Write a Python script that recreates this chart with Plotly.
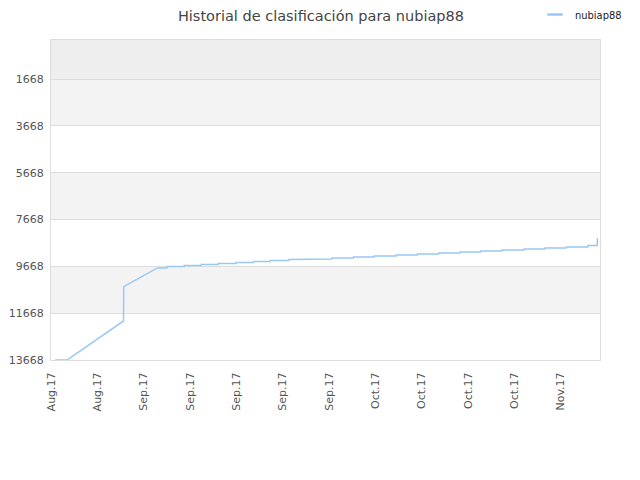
import plotly.graph_objects as go

# rank history (lower = better)
dates = [
    "2017-08-18 15:30", "2017-08-20 10:00", "2017-08-28 23:00", "2017-08-28 23:30",
    "2017-09-03 02:00", "2017-09-04 12:00", "2017-09-04 12:30", "2017-09-07 03:00",
    "2017-09-07 03:30", "2017-09-09 16:30", "2017-09-09 17:00", "2017-09-12 06:00",
    "2017-09-12 06:30", "2017-09-14 23:30", "2017-09-15 00:00", "2017-09-17 13:00",
    "2017-09-17 13:30", "2017-09-20 02:30", "2017-09-20 03:00", "2017-09-22 22:00",
    "2017-09-22 22:30", "2017-09-26 03:30", "2017-09-26 04:00", "2017-09-29 10:00",
    "2017-09-29 10:30", "2017-10-02 16:30", "2017-10-02 17:00", "2017-10-05 19:30",
    "2017-10-05 20:00", "2017-10-09 03:00", "2017-10-09 03:30", "2017-10-12 08:30",
    "2017-10-12 09:00", "2017-10-15 12:30", "2017-10-15 13:00", "2017-10-18 19:00",
    "2017-10-18 19:30", "2017-10-21 22:00", "2017-10-21 22:30", "2017-10-25 03:00",
    "2017-10-25 03:30", "2017-10-28 11:00", "2017-10-28 11:30", "2017-10-31 15:00",
    "2017-10-31 15:30", "2017-11-03 19:30", "2017-11-03 20:00", "2017-11-07 02:00",
    "2017-11-07 02:30", "2017-11-08 12:30", "2017-11-08 13:00",
]
ranks = [
    13668, 13668, 12002, 10535,
    9735, 9735, 9679, 9679,
    9637, 9637, 9594, 9594,
    9551, 9551, 9508, 9508,
    9465, 9465, 9423, 9423,
    9380, 9380, 9350, 9350,
    9307, 9307, 9265, 9265,
    9222, 9222, 9179, 9179,
    9136, 9136, 9094, 9094,
    9051, 9051, 9008, 9008,
    8965, 8965, 8923, 8923,
    8880, 8880, 8837, 8837,
    8782, 8782, 8465,
]

y_ticks = [1668, 3668, 5668, 7668, 9668, 11668, 13668]
y_labels = [str(v) for v in y_ticks]
x_start = "2017-08-18"
x_end = "2017-11-08 22:30"

FONT = "DejaVu Sans, Verdana, sans-serif"
LINE_COLOR = "#99c8f5"
CLEAR = "rgba(0,0,0,0)"

fig = go.Figure()
fig.add_trace(go.Scatter(
    x=dates, y=ranks, mode="lines", name="nubiap88", showlegend=False,
    line=dict(color=LINE_COLOR, width=1.5),
))
# legend entry with a short dash like the original
fig.add_trace(go.Scatter(
    x=[None], y=[None], mode="markers", name="nubiap88",
    marker=dict(symbol="line-ew-open", size=11, color=LINE_COLOR,
                line=dict(color=LINE_COLOR, width=2.5)),
))

# alternating background bands between y ticks
shapes = [dict(type="rect", xref="paper", yref="y", x0=0, x1=1, y0=1, y1=y_ticks[0],
               fillcolor="#eeeeee", line_width=0, layer="below")]
for i in range(0, len(y_ticks) - 1, 2):
    shapes.append(dict(type="rect", xref="paper", yref="y", x0=0, x1=1,
                       y0=y_ticks[i], y1=y_ticks[i + 1],
                       fillcolor="#f3f3f3", line_width=0, layer="below"))

# page body adds an 8px offset, margins compensate for it
fig.update_layout(
    width=640, height=480,
    margin=dict(l=43, r=48, t=32, b=128, autoexpand=False),
    paper_bgcolor="white", plot_bgcolor="white",
    font=dict(family=FONT, size=11, color="#555"),
    title=dict(text="Historial de clasificación para nubiap88", x=0.489, xref="container",
               y=0.983, yref="container", yanchor="middle",
               font=dict(size=14.5, color="#444")),
    showlegend=True,
    legend=dict(x=0.8816, xanchor="left", y=1.125, yanchor="top",
                font=dict(family="DejaVu Sans Condensed, Liberation Sans Narrow, sans-serif",
                          size=11, color="#222"),
                bgcolor=CLEAR),
    shapes=shapes,
)
fig.update_xaxes(
    type="date", range=[x_start, x_end], tick0=x_start, dtick=7 * 86400000,
    tickformat="%b.%y", tickangle=-90, showgrid=False, zeroline=False,
    showline=True, linecolor="#dddddd", mirror=True,
    ticks="outside", ticklen=7, tickcolor=CLEAR, automargin=False,
)
fig.update_yaxes(
    range=[13668, 1], tickvals=y_ticks, ticktext=y_labels, showgrid=True,
    gridcolor="#dddddd", zeroline=False, showline=True, linecolor="#dddddd",
    mirror=True, ticks="outside", ticklen=4, tickcolor=CLEAR, automargin=False,
)

fig.write_html("out.html")
